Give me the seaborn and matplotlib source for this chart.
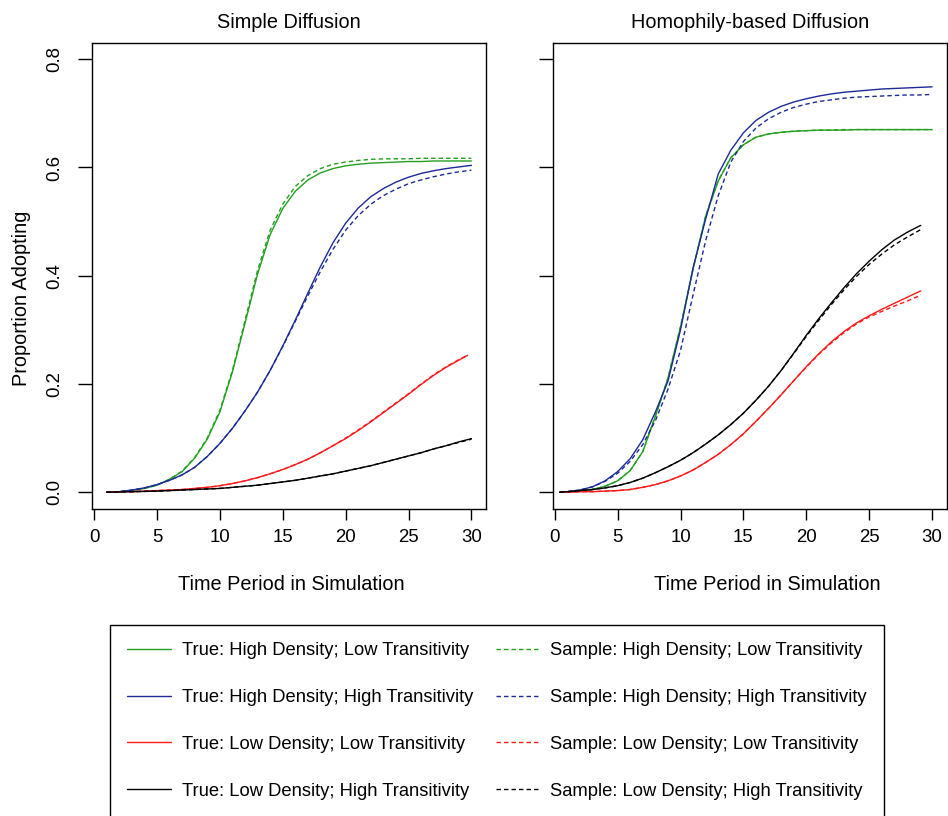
import numpy as np
import pandas as pd
import matplotlib
matplotlib.use("Agg")
import matplotlib.pyplot as plt
import seaborn as sns

# ---------------- data ----------------
panel_titles = ["Simple Diffusion", "Homophily-based Diffusion"]
x_label = "Time Period in Simulation"
y_label = "Proportion Adopting"
y_ticks = [0.0, 0.2, 0.4, 0.6, 0.8]
x_ticks = [0, 5, 10, 15, 20, 25, 30]

series_labels_true = ["True: High Density; Low Transitivity",
                      "True: High Density; High Transitivity",
                      "True: Low Density; Low Transitivity",
                      "True: Low Density; High Transitivity"]
series_labels_sample = ["Sample: High Density; Low Transitivity",
                        "Sample: High Density; High Transitivity",
                        "Sample: Low Density; Low Transitivity",
                        "Sample: Low Density; High Transitivity"]

# Left panel (Simple Diffusion)
t_left = list(range(1, 31))
t_left_red = list(range(1, 30)) + [29.7]

simple_hdlt_true = [0.000, 0.001, 0.003, 0.007, 0.013, 0.024, 0.038, 0.063, 0.098, 0.148,
                    0.222, 0.312, 0.403, 0.476, 0.524, 0.556, 0.577, 0.590, 0.598, 0.603,
                    0.606, 0.608, 0.609, 0.610, 0.611, 0.611, 0.612, 0.612, 0.612, 0.612]
simple_hdlt_sample = [0.000, 0.001, 0.003, 0.007, 0.013, 0.024, 0.039, 0.064, 0.100, 0.151,
                      0.225, 0.317, 0.410, 0.484, 0.532, 0.565, 0.585, 0.598, 0.606, 0.610,
                      0.613, 0.615, 0.616, 0.616, 0.616, 0.617, 0.617, 0.617, 0.617, 0.617]
simple_hdht_true = [0.000, 0.001, 0.004, 0.008, 0.014, 0.022, 0.032, 0.046, 0.066, 0.090,
                    0.118, 0.150, 0.185, 0.225, 0.270, 0.318, 0.368, 0.417, 0.461, 0.497,
                    0.525, 0.546, 0.561, 0.573, 0.582, 0.589, 0.594, 0.598, 0.601, 0.604]
simple_hdht_sample = [0.000, 0.001, 0.004, 0.008, 0.014, 0.022, 0.032, 0.046, 0.066, 0.090,
                      0.118, 0.150, 0.185, 0.225, 0.269, 0.316, 0.363, 0.408, 0.449, 0.484,
                      0.511, 0.532, 0.548, 0.560, 0.570, 0.577, 0.583, 0.588, 0.592, 0.595]
simple_ldlt_true = [0.000, 0.001, 0.001, 0.002, 0.003, 0.004, 0.005, 0.007, 0.009, 0.012,
                    0.016, 0.021, 0.027, 0.034, 0.042, 0.051, 0.061, 0.073, 0.086, 0.099,
                    0.114, 0.130, 0.147, 0.164, 0.181, 0.199, 0.216, 0.231, 0.244, 0.253]
simple_ldlt_sample = [0.000, 0.001, 0.001, 0.002, 0.003, 0.004, 0.005, 0.007, 0.009, 0.012,
                      0.016, 0.021, 0.027, 0.034, 0.042, 0.051, 0.061, 0.073, 0.086, 0.100,
                      0.115, 0.131, 0.148, 0.165, 0.182, 0.200, 0.217, 0.232, 0.245, 0.253]
simple_ldht_true = [0.000, 0.0005, 0.001, 0.0015, 0.002, 0.003, 0.004, 0.005, 0.006, 0.007,
                    0.009, 0.011, 0.013, 0.016, 0.019, 0.022, 0.026, 0.030, 0.034, 0.039,
                    0.044, 0.049, 0.055, 0.061, 0.067, 0.073, 0.080, 0.086, 0.093, 0.099]
simple_ldht_sample = [0.000, 0.0005, 0.001, 0.0015, 0.002, 0.003, 0.004, 0.005, 0.006, 0.007,
                      0.009, 0.011, 0.013, 0.016, 0.019, 0.022, 0.026, 0.030, 0.034, 0.039,
                      0.044, 0.049, 0.055, 0.061, 0.067, 0.073, 0.080, 0.086, 0.092, 0.098]

# Right panel (Homophily-based Diffusion)
t_right = [0.4] + list(range(1, 31))
t_right_low = [0.4] + list(range(1, 30)) + [29.1]

homo_hdlt_true = [0.000, 0.000, 0.002, 0.005, 0.011, 0.021, 0.040, 0.075, 0.140, 0.210, 0.305,
                  0.412, 0.510, 0.575, 0.618, 0.642, 0.656, 0.662, 0.665, 0.667, 0.668,
                  0.669, 0.669, 0.669, 0.670, 0.670, 0.670, 0.670, 0.670, 0.670, 0.670]
homo_hdlt_sample = [0.000, 0.000, 0.002, 0.005, 0.011, 0.021, 0.040, 0.075, 0.141, 0.211, 0.306,
                    0.413, 0.511, 0.576, 0.618, 0.642, 0.656, 0.662, 0.665, 0.667, 0.668,
                    0.669, 0.669, 0.670, 0.670, 0.670, 0.670, 0.670, 0.670, 0.670, 0.670]
homo_hdht_true = [0.000, 0.001, 0.004, 0.010, 0.021, 0.038, 0.062, 0.097, 0.148, 0.205, 0.300,
                  0.415, 0.505, 0.588, 0.632, 0.664, 0.687, 0.702, 0.713, 0.721, 0.727,
                  0.732, 0.736, 0.739, 0.741, 0.743, 0.745, 0.746, 0.747, 0.748, 0.749]
homo_hdht_sample = [0.000, 0.001, 0.004, 0.010, 0.020, 0.035, 0.057, 0.088, 0.132, 0.190, 0.262,
                    0.365, 0.465, 0.548, 0.610, 0.648, 0.673, 0.690, 0.702, 0.711, 0.717,
                    0.722, 0.725, 0.728, 0.730, 0.731, 0.732, 0.733, 0.734, 0.734, 0.735]
homo_ldlt_true = [0.000, 0.000, 0.001, 0.001, 0.002, 0.003, 0.005, 0.009, 0.014, 0.021, 0.030,
                  0.041, 0.055, 0.070, 0.088, 0.108, 0.131, 0.155, 0.180, 0.206, 0.232,
                  0.256, 0.278, 0.297, 0.313, 0.326, 0.338, 0.349, 0.360, 0.371, 0.372]
homo_ldlt_sample = [0.000, 0.000, 0.001, 0.001, 0.002, 0.003, 0.005, 0.009, 0.014, 0.021, 0.030,
                    0.041, 0.055, 0.070, 0.088, 0.108, 0.131, 0.155, 0.180, 0.206, 0.231,
                    0.255, 0.276, 0.295, 0.311, 0.324, 0.334, 0.344, 0.353, 0.363, 0.365]
homo_ldht_true = [0.000, 0.001, 0.003, 0.005, 0.008, 0.012, 0.018, 0.026, 0.036, 0.047, 0.059,
                  0.073, 0.089, 0.106, 0.125, 0.146, 0.170, 0.196, 0.225, 0.257, 0.290,
                  0.321, 0.350, 0.378, 0.404, 0.427, 0.448, 0.466, 0.480, 0.492, 0.493]
homo_ldht_sample = [0.000, 0.001, 0.003, 0.005, 0.008, 0.012, 0.018, 0.026, 0.036, 0.047, 0.059,
                    0.073, 0.089, 0.106, 0.125, 0.146, 0.170, 0.196, 0.225, 0.256, 0.288,
                    0.318, 0.347, 0.374, 0.399, 0.421, 0.440, 0.457, 0.471, 0.484, 0.486]

colors = ["#22a01e", "#1c2a96", "#ff1a1a", "#000000"]

# ---------------- style ----------------
sns.set_theme(style="ticks")
plt.rcParams["font.family"] = ["Liberation Sans", "DejaVu Sans"]
plt.rcParams["axes.linewidth"] = 1.0
plt.rcParams["axes.edgecolor"] = "black"
plt.rcParams["xtick.color"] = "black"
plt.rcParams["ytick.color"] = "black"
plt.rcParams["text.color"] = "black"
plt.rcParams["axes.labelcolor"] = "black"

fig = plt.figure(figsize=(9.48, 8.16), dpi=100)
ax_l = fig.add_axes([92 / 948, 1 - 509 / 816, 394 / 948, 466 / 816])
ax_r = fig.add_axes([552.7 / 948, 1 - 509 / 816, 394 / 948, 466 / 816])

dash = (0, (3.2, 2.2))
lw = 1.0

left_sets = [
    (t_left, simple_hdlt_true, simple_hdlt_sample),
    (t_left, simple_hdht_true, simple_hdht_sample),
    (t_left_red, simple_ldlt_true, simple_ldlt_sample),
    (t_left, simple_ldht_true, simple_ldht_sample),
]
right_sets = [
    (t_right, homo_hdlt_true, homo_hdlt_sample),
    (t_right, homo_hdht_true, homo_hdht_sample),
    (t_right_low, homo_ldlt_true, homo_ldlt_sample),
    (t_right_low, homo_ldht_true, homo_ldht_sample),
]

true_handles = [None] * 4
sample_handles = [None] * 4
for ax, sets in [(ax_l, left_sets), (ax_r, right_sets)]:
    for i, (tx, ytrue, ysamp) in enumerate(sets):
        df_s = pd.DataFrame({"t": tx, "p": ysamp})
        sns.lineplot(data=df_s, x="t", y="p", ax=ax, color=colors[i], linewidth=lw,
                     linestyle=dash, estimator=None, sort=False)
        sample_handles[i] = ax.lines[-1]
        df_t = pd.DataFrame({"t": tx, "p": ytrue})
        sns.lineplot(data=df_t, x="t", y="p", ax=ax, color=colors[i], linewidth=lw,
                     estimator=None, sort=False)
        true_handles[i] = ax.lines[-1]

for k, ax in enumerate([ax_l, ax_r]):
    ax.set_xlim(-0.16, 31.16)
    ax.set_ylim(-0.031, 0.83)
    ax.set_xticks(x_ticks)
    ax.set_yticks(y_ticks)
    ax.set_xticklabels([str(v) for v in x_ticks], fontsize=13.4)
    for s in ax.spines.values():
        s.set_visible(True)
        s.set_linewidth(1.0)
        s.set_color("black")
    ax.tick_params(axis="x", length=7.6, width=1.0, pad=7, direction="out")
    ax.tick_params(axis="y", length=10.4, width=1.0, pad=10, direction="out")
    ax.set_title(panel_titles[k], fontsize=14.3, pad=11)
    ax.set_xlabel(x_label, fontsize=14.3)
    ax.xaxis.set_label_coords([0.507, 0.545][k], -0.141)

ax_l.set_yticklabels([f"{v:.1f}" for v in y_ticks], fontsize=13.4, rotation=90,
                     va="center", ha="right")
ax_l.set_ylabel(y_label, fontsize=14.3)
ax_l.yaxis.set_label_coords(-0.155, 0.453)
ax_r.set_yticklabels([])
ax_r.set_ylabel("")

handles = true_handles + sample_handles
labels = series_labels_true + series_labels_sample
leg = fig.legend(handles, labels, ncol=2, loc="upper left",
                 bbox_to_anchor=(110 / 948, 1 - 625 / 816), borderaxespad=0,
                 frameon=True, fancybox=False, edgecolor="black", framealpha=1,
                 fontsize=13.2, handlelength=2.4, handletextpad=0.55,
                 columnspacing=1.25, labelspacing=1.62, borderpad=0.95)
leg.get_frame().set_linewidth(1.0)

fig.savefig("out.png", dpi=100)
